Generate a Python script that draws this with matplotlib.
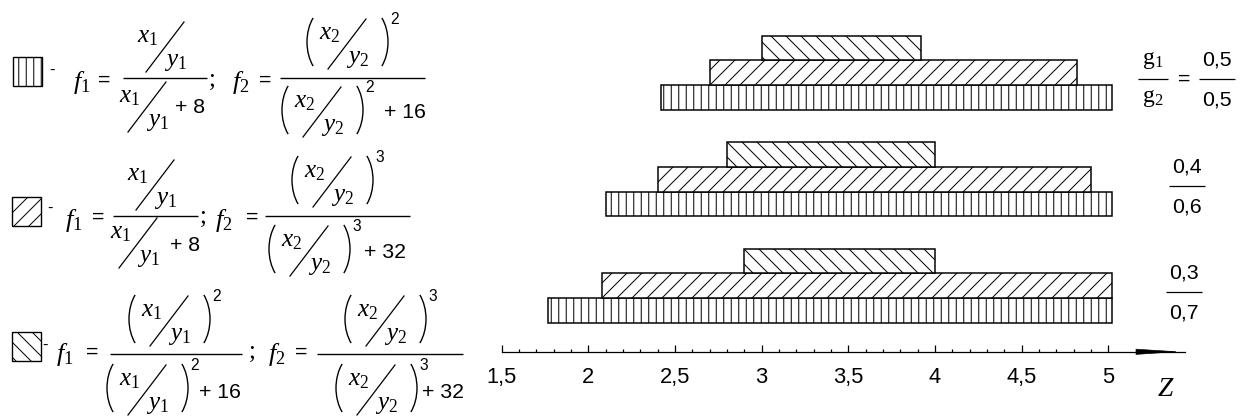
import matplotlib
matplotlib.use("Agg")
import matplotlib.pyplot as plt
from matplotlib.patches import Rectangle, Arc, Polygon
from matplotlib.ticker import FixedLocator
import numpy as np

# ---- data -------------------------------------------------------------
ratio_g1 = ["0,5", "0,4", "0,3"]
ratio_g2 = ["0,5", "0,6", "0,7"]
vert_lo = [2.42, 2.10, 1.77]      # vertically hatched bars
vert_hi = [5.02, 5.02, 5.02]
diag_lo = [2.70, 2.40, 2.08]      # "/" hatched bars
diag_hi = [4.82, 4.90, 5.02]
back_lo = [3.00, 2.80, 2.90]      # "\" hatched bars
back_hi = [3.92, 4.00, 4.00]
z_ticks = [1.5, 2, 2.5, 3, 3.5, 4, 4.5, 5]
z_labels = ["1,5", "2", "2,5", "3", "3,5", "4", "4,5", "5"]

# ---- style ------------------------------------------------------------
plt.rcParams["hatch.linewidth"] = 0.8
plt.rcParams["mathtext.fontset"] = "custom"
plt.rcParams["mathtext.rm"] = "Liberation Serif"
plt.rcParams["mathtext.it"] = "Liberation Serif:italic"

W, H, DPI = 1251, 417, 90
fig = plt.figure(figsize=(W / DPI, H / DPI), dpi=DPI)
fig.patch.set_facecolor("white")

# overlay in pixel units for the formula legend and annotations
ov = fig.add_axes([0, 0, 1, 1])
ov.set_xlim(0, W)
ov.set_ylim(H, 0)
ov.axis("off")

# ---- bar axes ---------------------------------------------------------
x0px, ppu, yaxis_px, bar_px = 501.5, 173.4, 351.7, 24.7
zmax = 5.44
ax = fig.add_axes([x0px / W, (H - yaxis_px) / H, (zmax - 1.5) * ppu / W, yaxis_px / H])
ax.set_xlim(1.5, zmax)
ax.set_ylim(0, yaxis_px / bar_px)
ax.patch.set_visible(False)

bases = 1.174 + 4.31 * (2 - np.arange(3))
layers = [(vert_lo, vert_hi, "||", 0), (diag_lo, diag_hi, "//", 1), (back_lo, back_hi, "\\\\", 2)]
for lo, hi, hatch, off in layers:
    ax.barh(bases + off + 0.5, np.subtract(hi, lo), left=lo, height=1,
            facecolor="white", edgecolor="black", linewidth=1.2, hatch=hatch)

for s in ["top", "right", "left"]:
    ax.spines[s].set_visible(False)
ax.spines["bottom"].set_linewidth(1.0)
ax.set_yticks([])
ax.set_xticks(z_ticks, z_labels)
ax.xaxis.set_minor_locator(FixedLocator(np.linspace(1.5, 5, 36)))
ax.tick_params(axis="x", which="major", direction="in", length=5.6, width=1,
               pad=12, labelsize=17.5)
ax.tick_params(axis="x", which="minor", direction="in", length=2.8, width=1)
for lab in ax.get_xticklabels():
    lab.set_family("Liberation Sans")

# axis arrow and name
ov.add_patch(Polygon([(1136, 349.2), (1176, 351.7), (1136, 354.4)], closed=True,
                     facecolor="black", edgecolor="black", lw=0.5))
ov.text(1165, 389, "Z", family="Liberation Serif", style="italic", fontsize=22,
        ha="center", va="center")

# ---- helpers ----------------------------------------------------------
def t(x, y, s, size=20, family="Liberation Serif"):
    ov.text(x, y, s, fontsize=size, family=family, ha="center", va="center")


def num(x, y, s, size=17):
    t(x, y, s, size, family="Liberation Sans")


def hline(x1, x2, y, lw=1.1):
    ov.plot([x1, x2], [y, y], color="black", lw=lw, solid_capstyle="butt")


def paren(xe, cy, left=True, h=58):
    a = 23
    b = h / 2 / 0.82
    if left:
        ov.add_patch(Arc((xe + a, cy), 2 * a, 2 * b, theta1=125, theta2=235, lw=1.1))
    else:
        ov.add_patch(Arc((xe - a, cy), 2 * a, 2 * b, theta1=-55, theta2=55, lw=1.1))


def sfrac(cx, cy, top, bot, power=None):
    t(cx - 17, cy - 10, top)
    t(cx + 10, cy + 15, bot)
    ov.plot([cx - 19, cx + 19], [cy + 25, cy - 25], color="black", lw=1)
    if power:
        paren(cx - 40, cy - 2, True)
        paren(cx + 41, cy - 2, False)
        num(cx + 48, cy - 25, power, 12.5)


def swatch(x, y, hatch):
    ov.add_patch(Rectangle((x, y), 29, 29, fill=False, edgecolor="black",
                           lw=1.1, hatch=hatch))


X1, Y1, X2, Y2 = r"$x_1$", r"$y_1$", r"$x_2$", r"$y_2$"
F1, F2 = r"$f_1$", r"$f_2$"

# row 1
swatch(13, 57, "||")
num(52, 70, "-", 13)
t(82, 82, F1, 21)
num(104, 80, "=", 17)
hline(123, 207, 78.3)
sfrac(165, 47, X1, Y1)
sfrac(147, 107, X1, Y1)
num(190, 107, "+ 8")
t(212, 80, ";")
t(241, 82, F2, 21)
num(265, 80, "=", 17)
hline(280, 425, 78.3)
sfrac(347, 44, X2, Y2, "2")
sfrac(322, 112, X2, Y2, "2")
num(405, 112, "+ 16")

# row 2
swatch(12, 197, "//")
num(50, 208, "-", 13)
t(74, 220, F1, 21)
num(98, 217, "=", 17)
hline(113, 198, 216)
sfrac(155, 185, X1, Y1)
sfrac(138, 243, X1, Y1)
num(185, 245, "+ 8")
t(203, 217, ";")
t(224, 220, F2, 21)
num(252, 217, "=", 17)
hline(265, 410, 216)
sfrac(332, 182, X2, Y2, "3")
sfrac(309, 251, X2, Y2, "3")
num(385, 252, "+ 32")

# row 3
swatch(12, 332, "\\\\")
num(45, 345, "-", 13)
t(65, 354, F1, 21)
num(92, 352, "=", 17)
hline(110, 242, 354)
sfrac(169, 321, X1, Y1, "2")
sfrac(147, 390, X1, Y1, "2")
num(220, 392, "+ 16")
t(252, 352, ";")
t(277, 354, F2, 21)
num(301, 352, "=", 17)
hline(317, 463, 354)
sfrac(385, 321, X2, Y2, "3")
sfrac(376, 390, X2, Y2, "3")
num(443, 392, "+ 32")

# ---- weight ratio labels to the right of each group ---------------------
label_x = [1217, 1187, 1184]
for i in range(3):
    yc = yaxis_px - (bases[i] + 1.5) * bar_px + 6.5
    xc = label_x[i]
    hline(xc - 18, xc + 18, yc, lw=1.0)
    num(xc, yc - 19, ratio_g1[i], 17)
    num(xc, yc + 21, ratio_g2[i], 17)
    if i == 0:
        hline(1138, 1168, yc, lw=1.0)
        t(1153, yc - 19, r"$\mathrm{g}_1$", 19)
        t(1153, yc + 19, r"$\mathrm{g}_2$", 19)
        num(1184.5, yc, "=", 17)

fig.savefig("out.png", dpi=DPI, facecolor="white")
